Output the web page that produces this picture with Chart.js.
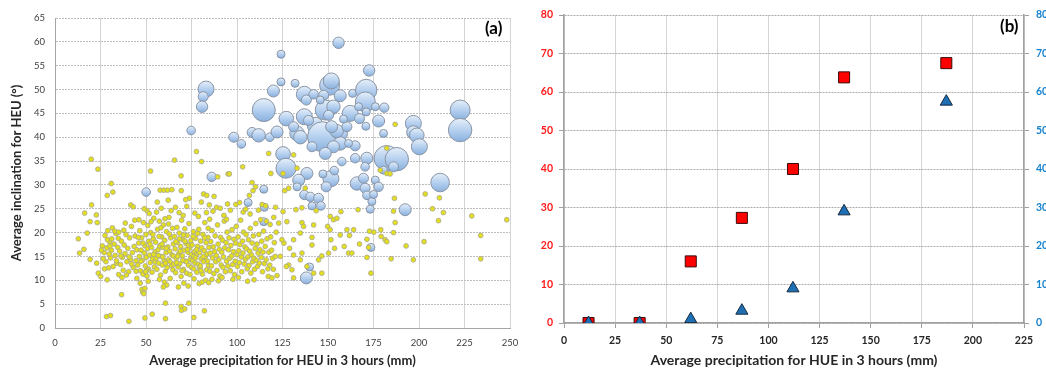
<!DOCTYPE html>
<html>
<head>
<meta charset="utf-8">
<script src="https://cdn.jsdelivr.net/npm/chart.js@4/dist/chart.umd.min.js"></script>
<style>
  body { margin: 0; background: #fff; width: 1046px; height: 369px; overflow: hidden; position: relative; font-family: Lato, 'Open Sans', sans-serif; }
  canvas { position: absolute; top: 0; }
  #chartA { left: 0; }
  #chartB { left: 530px; }
  .tag { position: absolute; font: bold 17px Lato, sans-serif; color: #000; line-height: 1; }
</style>
</head>
<body>
<canvas id="chartA" width="530" height="369"></canvas>
<canvas id="chartB" width="516" height="369"></canvas>
<div class="tag" style="left:485px; top:19px;">(a)</div>
<div class="tag" style="left:1000px; top:17px;">(b)</div>
<script>
// panel (a): small yellow points, [precipitation, inclination]
const puntosBajos = [
  [19.9,35.4],[23.6,33.3],[30.9,30.3],[31.8,28.5],[28.7,27.8],[20.1,25.8],[16.3,24.1],[22.7,23.7],[23.2,22.1],[19.3,22.3],
  [17.7,19.9],[12.8,18.7],[13.5,15.7],[15.9,16.5],[19.3,14.4],[22.9,13.6],[23.8,11.5],[25.1,10.8],[28.7,10.1],[36.6,7.0],
  [28.3,2.4],[30.5,2.6],[40.6,1.4],[49.4,2.1],[53.4,2.9],[60.7,1.95],[60.7,5.2],[69.3,4.5],[69.5,3.7],[71.3,4.0],
  [73.5,5.2],[76.3,2.2],[82.1,3.6],[52.5,32.9],[65.7,35.2],[69.3,31.9],[77.7,37.0],[80.5,34.9],[95.1,32.3],[103.1,33.8],
  [108.3,30.5],[89.4,31.7],[117.4,36.6],[118.6,32.4],[125.3,32.4],[131.1,36.3],[133,33.5],[137.5,29.3],
  [182.3,37.7],[186.9,42.7],[178.7,33.1],[182.3,32.4],[184.1,32.3],[203.4,28.1],[211.2,27.3],[213.4,24.2],[207.4,25.0],
  [210.7,22.5],[229,23.5],[248.2,22.7],[233.9,19.4],[233.9,14.5],[202.8,18.1],[196.9,14.3],[192.9,17.2],[184.7,14.5],
  [186,20.0],[186.9,22.1],[186,24.5],[181.4,18.5],[182.3,18.1],[179.2,19.2],[179,20.6],[172.8,20.3],[171.4,18.6],
  [172.3,16.9],[171.4,14.8],[173.6,11.5],[167.3,17.6],[164.1,20.6],[160.4,20.6],[161.8,19.4],[158.9,17.1],[161.3,15.7],
  [163.1,15.7],[156.7,19.5],[151.6,18.5],[153.6,16.7],[150.3,15.7],[151.2,23.4],[153,22.7],[154.9,23.0],[157.1,24.4],
  [149.8,21.3],[151.2,20.6],[142.1,21.6],[141.2,19.0],[141.2,17.4],[144.8,14.3],[146.6,15.1],[142.1,11.5],[146.6,11.5],
  [138.4,12.9],[135.7,15.7],[134.8,14.3],[134.8,19.9],[135.7,22.1],[136.6,21.3],[131.1,18.5],[128.9,16.7],[131.1,15.3],
  [130.2,12.2],[131.1,10.5],[128.4,13.2],[127.1,12.9],[123.8,15.0],[125.8,17.8],[124.7,18.5],[127.4,22.3],[122.9,22.0],
  [125.3,24.4],[126.2,28.8],[128.4,29.3],[132.4,24.8],[135.7,25.2],[186.5,27.2],[143.5,24.6],[166.5,24.8],[175.2,20.1],
  [26,17.2],[27,15.8],[27.5,19.4],[28,13.9],[28.5,16.8],[29,20.4],[29.5,12.6],[30,18.1],[30.5,14.7],[31,16.3],
  [31.5,21.0],[32,12.9],[32.5,17.6],[33,15.2],[33.5,19.8],[34,13.6],[34.5,16.9],[35,11.2],[26.5,14.5],[27.2,12.4],
  [29.8,15.5],[31.2,18.7],[33.8,14.1],[25.5,16.3],[30.2,17.2],[32.8,20.3],[28.8,18.5],[34.8,18.8],[35,20.1],
  [35.5,16.1],[36,13.3],[36.5,18.2],[37,14.8],[37.5,12.1],[38,17.4],[38.5,15.6],[39,19.6],[39.5,13.9],[40,16.7],
  [40.5,11.8],[41,18.9],[41.5,14.4],[42,21.3],[42.5,15.8],[43,12.7],[43.5,17.1],[44,19.3],[44.5,14.1],[45,16.4],
  [36.2,15.1],[37.8,20.5],[39.2,11.1],[40.8,14.9],[42.2,13.4],[43.8,22.6],[44.6,11.9],[38.6,22.0],[41.6,25.8],[43,25.4],
  [36.8,10.6],[45,10.4],
  [45.5,13.2],[46,17.8],[46.3,15.0],[46.6,20.4],[47,12.0],[47.3,16.3],[47.6,18.9],[48,14.2],[48.3,11.3],[48.6,22.1],
  [49,15.7],[49.3,17.3],[49.6,13.0],[50,19.6],[50.2,14.8],[50.5,10.9],[50.8,16.6],[51,21.5],[51.3,12.4],[51.6,18.2],
  [52,15.3],[52.3,13.7],[52.6,20.0],[53,16.9],[53.3,11.7],[53.6,14.5],[54,18.7],[54.3,23.0],[54.6,12.8],[55,16.0],
  [46.8,9.4],[47.8,8.1],[48.2,7.5],[48.8,7.2],[49.4,8.3],[50.6,24.6],[51.8,24.0],[49.1,25.0],[52.8,22.3],[46.1,22.7],
  [53.8,19.6],[55,13.9],[45.8,19.0],[47.2,14.0],[48.4,17.8],[50.4,12.1],[52.2,17.6],[54.2,15.4],[49.8,11.8],[51.2,9.8],
  [55.3,18.0],[55.6,14.6],[56,12.3],[56.3,20.7],[56.6,16.4],[57,13.6],[57.3,22.4],[57.6,17.2],[58,11.1],[58.3,15.0],
  [58.6,19.1],[59,13.2],[59.3,16.9],[59.6,21.6],[60,14.1],[60.3,18.4],[60.6,11.9],[61,15.8],[61.3,20.2],[61.6,12.7],
  [62,17.0],[62.3,14.3],[62.6,23.2],[63,16.1],[63.3,10.4],[63.6,18.9],[64,13.1],[64.3,15.3],[64.6,20.9],[65,17.6],
  [56.2,26.4],[57.8,28.9],[59.8,28.9],[61.8,28.9],[64.2,29.0],[62.2,26.8],[58.4,25.1],[60.2,9.6],[61.4,9.0],[57.4,10.2],
  [59.5,8.6],[55.8,24.3],[63.8,24.6],[56.8,15.2],[58.8,17.6],[60.8,13.6],[62.8,19.7],[64.8,12.2],[57.2,19.2],[59.2,14.9],
  [61.2,16.7],[63.2,13.9],[65,15.1],[60.4,22.9],[62.4,21.8],[58.2,21.0],
  [65.3,13.4],[65.6,19.2],[66,16.6],[66.3,11.6],[66.6,14.6],[67,21.1],[67.3,17.9],[67.6,12.8],[68,15.6],[68.3,19.9],
  [68.6,13.5],[69,17.1],[69.3,10.8],[69.6,22.6],[70,15.1],[70.3,18.5],[70.6,12.3],[71,16.3],[71.3,20.8],[71.6,14.0],
  [72,17.7],[72.3,11.5],[72.6,19.4],[73,15.9],[73.3,13.2],[73.6,21.9],[74,16.8],[74.3,14.4],[74.6,18.3],[75,12.7],
  [66.2,25.3],[68.2,24.2],[70.4,23.6],[72.4,25.5],[73.8,27.2],[71.8,26.9],[69.4,28.8],[67.8,8.6],[70.8,9.4],[73.2,8.8],
  [66.8,13.7],[68.8,16.1],[70.2,14.2],[72.2,13.9],[74.2,11.2],[66.4,18.1],[68.4,18.7],[70.6,19.5],[72.8,16.5],[74.8,15.4],
  [67.4,15.0],[69.8,12.0],[71.4,18.2],[73.4,17.3],
  [75.3,17.4],[75.6,14.1],[76,20.2],[76.3,12.4],[76.6,16.0],[77,13.6],[77.3,18.8],[77.6,15.3],[78,11.7],[78.3,17.1],
  [78.6,13.4],[79,20.7],[79.3,15.8],[79.6,12.6],[80,18.2],[80.3,14.5],[80.6,16.8],[81,11.3],[81.3,19.6],[81.6,13.9],
  [82,16.2],[82.3,22.1],[82.6,14.8],[83,17.9],[83.3,12.2],[83.6,15.5],[84,19.0],[84.3,13.1],[84.6,16.9],[85,11.9],
  [76.8,24.1],[78.8,23.4],[80.4,26.4],[81.6,28.1],[83.4,27.8],[84.8,25.8],[79.2,9.3],[80.8,9.6],[82.8,10.0],[84.4,9.5],
  [76.2,15.0],[77.8,16.4],[79.8,13.0],[81.4,15.0],[83.8,14.0],[75.8,19.2],[77.2,14.7],[78.4,19.8],[80.2,12.0],[82.2,18.9],
  [84.2,20.9],[76.4,10.3],[85,22.8],[83.2,24.2],
  [85.3,15.7],[85.6,18.1],[86,13.0],[86.3,20.4],[86.6,14.7],[87,17.0],[87.3,11.4],[87.6,16.0],[88,19.3],[88.3,13.9],
  [88.6,15.2],[89,12.1],[89.3,21.6],[89.6,17.6],[90,14.3],[90.3,16.5],[90.6,10.9],[91,19.0],[91.3,13.2],[91.6,15.9],
  [92,18.4],[92.3,12.7],[92.6,14.9],[93,22.4],[93.3,16.8],[93.6,11.8],[94,17.9],[94.3,14.0],[94.6,20.1],[95,13.0],
  [86.8,24.5],[88.8,25.3],[90.8,25.1],[92.8,23.6],[94.8,26.0],[87.4,27.6],[86.2,10.2],[89.8,9.9],[91.8,10.6],[94.2,22.8],
  [95.3,16.4],[95.6,18.9],[96,14.6],[96.3,12.0],[96.6,17.3],[97,15.1],[97.3,20.6],[97.6,13.3],[98,16.0],[98.3,18.6],
  [98.6,11.2],[99,14.0],[99.3,17.8],[99.6,21.3],[100,15.4],[100.3,12.9],[100.6,19.1],[101,16.2],[101.3,13.7],[101.6,17.5],
  [102,22.6],[102.3,14.9],[102.6,11.8],[103,18.2],[103.3,15.7],[103.6,20.1],[104,13.4],[104.3,17.0],[104.6,14.4],[105,19.6],
  [96.4,24.7],[99.4,25.9],[101.4,26.3],[103.4,24.3],[104.8,24.9],[97.8,10.2],[100.8,10.6],[95.8,32.3],
  [105.3,16.6],[105.6,12.4],[106,14.9],[106.3,18.5],[106.6,13.1],[107,16.1],[107.3,20.9],[107.6,11.5],[108,15.3],[108.3,17.8],
  [108.6,13.9],[109,19.3],[109.3,14.6],[109.6,12.3],[110,16.7],[110.3,21.9],[110.6,14.2],[111,17.6],[111.3,12.9],[111.6,15.7],
  [112,19.6],[112.3,13.6],[112.6,16.4],[113,22.7],[113.3,14.8],[113.6,18.2],[114,11.8],[114.3,15.9],[114.6,20.3],[115,13.5],
  [106.8,27.8],[108.8,28.8],[110.2,29.6],[111.8,24.7],[113.8,25.9],[107.2,23.9],[105.8,9.8],[109.4,10.1],
  [115.5,17.1],[116,14.3],[116.5,18.7],[117,12.4],[117.5,15.9],[118,13.2],[118.5,19.1],[119,16.3],[119.5,14.6],[120,12.3],
  [120.5,17.9],[121,15.0],[121.5,20.1],[122,11.0],[116.2,22.4],[118.2,21.7],[120.2,23.2],[117.2,10.8],[119.2,10.5],[115.8,25.6],
  [121.2,25.3]
];

// panel (a): bubbles, [precipitation, inclination, size]
const burbujas = [
  [155.8,59.8,5.7],[124.2,57.4,4],[172.6,54.0,5.7],[131.9,51.3,4],[124.2,51.6,4],[83.0,50.1,8],[81.4,48.5,5],[80.8,46.4,5.7],
  [120,49.7,6],[114.7,45.7,11.5],[74.8,41.4,4.3],[98.2,40.0,5],[102.4,38.6,4.3],[108.3,41.0,5],[111.9,40.4,6.7],[118,40.0,4.3],
  [122,41.1,6],[127.1,43.9,7.3],[125.3,36.5,7.3],[126.9,33.5,10],[133,40.8,7.3],[137,44.3,8],[137,49.0,8],[138.1,47.8,5],
  [143,42.5,8],[147,40.1,15],[150.9,50.9,10],[151.8,51.8,8],[147.6,48.8,5],[148.5,45.7,10],[153,46.4,6.7],[156.7,48.7,6],
  [163.5,49.2,4],[171,49.9,10.7],[170.5,47.4,10],[176,46.4,4],[180.9,46.2,4.7],[162.2,45.0,8],[166.8,46.4,4],[167.3,43.9,5],
  [170.8,42.3,4],[171,45.3,4],[177.8,43.4,6],[180.5,40.8,4],[156.7,40.8,7.3],[156.7,38.7,6.7],[153,38.0,6],[148.5,36.6,6],
  [141.2,38.0,5],[164.9,38.2,5],[164.9,35.6,4.7],[157.6,34.9,4.3],[171.3,35.6,6],[170.4,33.8,4.3],[182.3,35.6,12.7],[187.8,35.4,11.7],
  [186,33.8,5],[180.5,33.1,4],[196.9,42.9,8],[196.9,41.0,6.7],[198.8,40.4,7.3],[200.2,38.0,8],[222.6,45.7,10],[222.6,41.5,11.7],
  [211.6,30.5,9.3],[192.4,24.8,6],[151.6,31.3,8],[149,29.6,5],[147.2,32.3,4],[153.4,33.0,4.3],[165.9,30.3,6.7],[169.5,31.4,5],
  [170.4,29.3,5],[171.4,27.8,4.3],[174.1,26.5,4],[173.2,24.9,4],[176,31.0,4],[177.8,29.6,4.7],[175,28.0,4],[138.4,32.4,6],
  [133.9,31.0,6],[133,29.6,4],[137,27.9,4.7],[140.3,27.5,4.7],[144.8,27.2,5],[146.1,25.6,4.3],[141.2,25.6,4],[114.7,29.1,4],
  [115,25.3,4],[114.7,22.3,4],[106.1,26.3,4],[86.1,31.7,4.7],[50.1,28.5,4.3],[138.1,10.5,6],[139.9,12.8,4],[173.6,16.9,4],
  [154.8,41.3,6.7],[160.4,42.2,5],[158.5,43.8,4],[150.3,44.6,5],[152,42.2,6],[134.8,40.0,6.7],[131.1,42.2,5],[139.3,43.5,5],
  [161.3,38.7,4],[145.7,47.8,4],[142.1,49.0,4.7]
];

// panel (b)
const precipHUE = [12, 37, 62, 87, 112, 137, 187];
const serieRoja = [0, 0, 16, 27.3, 40, 63.8, 67.5];
const serieAzul = [0, 0, 1, 3.2, 9, 29, 57.5];

const fuente = "Lato, 'Open Sans', sans-serif";

function rellenoBurbuja(c) {
  const chart = c.chart;
  if (c.type !== 'data' || !chart.chartArea || !c.raw) return '#a9c9ec';
  const y = chart.scales.y.getPixelForValue(c.raw.y);
  const r = c.raw.r;
  const g = chart.ctx.createLinearGradient(0, y - r, 0, y + r);
  g.addColorStop(0, '#e6eff9');
  g.addColorStop(0.55, '#b1cdee');
  g.addColorStop(1, '#89b0dd');
  return g;
}

new Chart(document.getElementById('chartA'), {
  type: 'scatter',
  data: {
    datasets: [
      {
        data: puntosBajos.map(p => ({ x: p[0], y: p[1] })),
        pointRadius: 2.4,
        backgroundColor: '#e3df1c',
        borderColor: '#a8a690',
        borderWidth: 0.8
      },
      {
        type: 'bubble',
        data: burbujas.map(b => ({ x: b[0], y: b[1], r: b[2] })),
        backgroundColor: rellenoBurbuja,
        borderColor: '#8994a4',
        borderWidth: 1
      }
    ]
  },
  options: {
    responsive: false,
    animation: false,
    layout: { padding: { left: 0, right: 20, top: 18, bottom: 0 } },
    plugins: { legend: { display: false }, tooltip: { enabled: false } },
    scales: {
      x: {
        type: 'linear', min: 0, max: 250,
        afterFit: a => { a.height = 41; },
        ticks: { stepSize: 25, padding: 9, color: '#404040', font: { family: fuente, size: 9.5 } },
        grid: { color: '#d4d4d4', drawTicks: false },
        border: { color: '#a6a6a6' },
        title: { display: true, text: 'Average precipitation for HEU in 3 hours (mm)', color: '#262626',
                 padding: { top: 0, bottom: 0 }, font: { family: fuente, size: 13, weight: 'bold' } }
      },
      y: {
        min: 0, max: 65,
        afterFit: a => { a.width = 55; },
        ticks: { stepSize: 5, padding: 10, color: '#404040', font: { family: fuente, size: 9.5 } },
        grid: { color: '#bdbdbd', drawTicks: false },
        border: { color: '#a6a6a6', dash: [2, 1] },
        title: { display: true, text: 'Average inclination for HEU (°)', color: '#262626',
                 padding: { top: 9, bottom: 0 }, font: { family: fuente, size: 13, weight: 'bold' } }
      }
    }
  }
});

new Chart(document.getElementById('chartB'), {
  type: 'scatter',
  data: {
    datasets: [
      {
        data: precipHUE.map((x, i) => ({ x: x, y: serieAzul[i] })),
        yAxisID: 'y2',
        pointStyle: 'triangle',
        pointRadius: 7,
        backgroundColor: '#1f6fb5',
        borderColor: '#13283d',
        borderWidth: 1
      },
      {
        data: precipHUE.map((x, i) => ({ x: x, y: serieRoja[i] })),
        yAxisID: 'y',
        pointStyle: 'rect',
        pointRadius: 7.8,
        backgroundColor: '#ff0000',
        borderColor: '#3a0a0a',
        borderWidth: 1
      }
    ]
  },
  options: {
    responsive: false,
    animation: false,
    layout: { padding: { left: 0, right: 0, top: 15, bottom: 0 } },
    plugins: { legend: { display: false }, tooltip: { enabled: false } },
    scales: {
      x: {
        type: 'linear', min: 0, max: 225,
        afterFit: a => { a.height = 46; },
        ticks: { stepSize: 25, padding: 6, color: '#262626', font: { family: fuente, size: 10.5, weight: 'bold' } },
        grid: { color: '#d6d6d6', tickLength: 5, tickColor: '#a0a0a0' },
        border: { color: '#a0a0a0', width: 1.5 },
        title: { display: true, text: 'Average precipitation for HUE in 3 hours (mm)', color: '#262626',
                 padding: { top: 0, bottom: 0 }, font: { family: fuente, size: 14, weight: 'bold' } }
      },
      y: {
        position: 'left', min: 0, max: 80,
        afterFit: a => { a.width = 34; },
        ticks: { stepSize: 10, padding: 6, color: '#ff1a1a', font: { family: fuente, size: 10.5, weight: 'bold' } },
        grid: { color: '#ababab', tickLength: 5, tickColor: '#a0a0a0', tickBorderDash: [] },
        border: { color: '#a0a0a0', width: 1.5, dash: [2, 1] }
      },
      y2: {
        position: 'right', min: 0, max: 80,
        afterFit: a => { a.width = 22; },
        ticks: { stepSize: 10, padding: 7, color: '#1683d0', font: { family: fuente, size: 10.5, weight: 'bold' } },
        grid: { drawOnChartArea: false, tickLength: 5, color: '#a0a0a0' },
        border: { color: '#a0a0a0', width: 1.5 }
      }
    }
  }
});
</script>
</body>
</html>
